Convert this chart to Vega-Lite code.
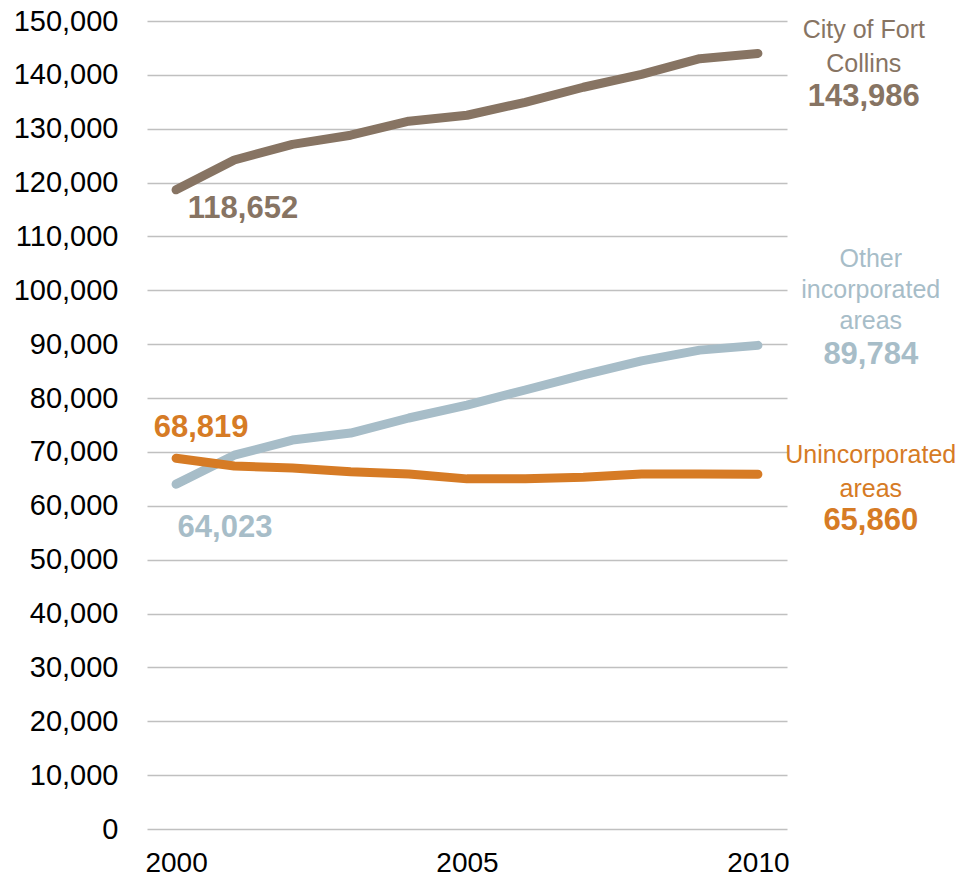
{
  "$schema": "https://vega.github.io/schema/vega-lite/v6.json",
  "width": 640,
  "height": 808,
  "autosize": {"type": "none"},
  "padding": {"left": 147, "top": 21, "right": 172, "bottom": 53},
  "background": "white",
  "config": {"view": {"stroke": null}, "font": "Liberation Sans"},
  "datasets": {
    "series": [
      {"year": 2000, "value": 118652, "area": "City"},
      {"year": 2001, "value": 124200, "area": "City"},
      {"year": 2002, "value": 127100, "area": "City"},
      {"year": 2003, "value": 128800, "area": "City"},
      {"year": 2004, "value": 131400, "area": "City"},
      {"year": 2005, "value": 132500, "area": "City"},
      {"year": 2006, "value": 134900, "area": "City"},
      {"year": 2007, "value": 137700, "area": "City"},
      {"year": 2008, "value": 140100, "area": "City"},
      {"year": 2009, "value": 143000, "area": "City"},
      {"year": 2010, "value": 143986, "area": "City"},
      {"year": 2000, "value": 64023, "area": "Other"},
      {"year": 2001, "value": 69400, "area": "Other"},
      {"year": 2002, "value": 72200, "area": "Other"},
      {"year": 2003, "value": 73500, "area": "Other"},
      {"year": 2004, "value": 76300, "area": "Other"},
      {"year": 2005, "value": 78700, "area": "Other"},
      {"year": 2006, "value": 81500, "area": "Other"},
      {"year": 2007, "value": 84300, "area": "Other"},
      {"year": 2008, "value": 86900, "area": "Other"},
      {"year": 2009, "value": 88900, "area": "Other"},
      {"year": 2010, "value": 89784, "area": "Other"},
      {"year": 2000, "value": 68819, "area": "Uninc"},
      {"year": 2001, "value": 67400, "area": "Uninc"},
      {"year": 2002, "value": 67000, "area": "Uninc"},
      {"year": 2003, "value": 66300, "area": "Uninc"},
      {"year": 2004, "value": 65900, "area": "Uninc"},
      {"year": 2005, "value": 65000, "area": "Uninc"},
      {"year": 2006, "value": 65000, "area": "Uninc"},
      {"year": 2007, "value": 65300, "area": "Uninc"},
      {"year": 2008, "value": 65900, "area": "Uninc"},
      {"year": 2009, "value": 65900, "area": "Uninc"},
      {"year": 2010, "value": 65860, "area": "Uninc"}
    ],
    "labels": [
      {"x": 2011.82, "y": 148320, "text": "City of Fort", "area": "City", "bold": false},
      {"x": 2011.82, "y": 142010, "text": "Collins", "area": "City", "bold": false},
      {"x": 2011.82, "y": 135880, "text": "143,986", "area": "City", "bold": true},
      {"x": 2011.94, "y": 105810, "text": "Other", "area": "Other", "bold": false},
      {"x": 2011.94, "y": 100060, "text": "incorporated", "area": "Other", "bold": false},
      {"x": 2011.94, "y": 94300, "text": "areas", "area": "Other", "bold": false},
      {"x": 2011.94, "y": 87990, "text": "89,784", "area": "Other", "bold": true},
      {"x": 2011.94, "y": 69430, "text": "Unincorporated", "area": "Uninc", "bold": false},
      {"x": 2011.94, "y": 63120, "text": "areas", "area": "Uninc", "bold": false},
      {"x": 2011.94, "y": 57170, "text": "65,860", "area": "Uninc", "bold": true},
      {"x": 2001.15, "y": 115090, "text": "118,652", "area": "City", "bold": true},
      {"x": 2000.43, "y": 74440, "text": "68,819", "area": "Uninc", "bold": true},
      {"x": 2000.84, "y": 55880, "text": "64,023", "area": "Other", "bold": true}
    ]
  },
  "layer": [
    {
      "data": {"name": "series"},
      "mark": {"type": "line", "strokeWidth": 9, "strokeCap": "round", "strokeJoin": "round", "clip": false},
      "encoding": {
        "x": {
          "field": "year", "type": "quantitative",
          "scale": {"domain": [1999.5, 2010.5], "nice": false, "zero": false},
          "axis": {"values": [2000, 2005, 2010], "format": "d", "title": null, "grid": false, "domain": false, "ticks": false,
                   "labelFontSize": 28, "labelColor": "#000000", "labelPadding": 20, "labelFont": "Liberation Sans"}
        },
        "y": {
          "field": "value", "type": "quantitative",
          "scale": {"domain": [0, 150000], "nice": false},
          "axis": {"values": [0,10000,20000,30000,40000,50000,60000,70000,80000,90000,100000,110000,120000,130000,140000,150000],
                   "format": ",.0f", "title": null, "domain": false, "ticks": false, "grid": true, "gridColor": "#c0c0c0", "gridWidth": 1.5,
                   "labelFontSize": 29, "labelColor": "#000000", "labelPadding": 29, "labelFont": "Liberation Sans"}
        },
        "color": {
          "field": "area", "type": "nominal", "legend": null,
          "scale": {"domain": ["City", "Other", "Uninc"], "range": ["#877463", "#a7bdc8", "#d67b25"]}
        }
      }
    },
    {
      "data": {"name": "labels"},
      "transform": [{"filter": "!datum.bold"}],
      "mark": {"type": "text", "fontSize": 25, "align": "center", "baseline": "middle", "clip": false},
      "encoding": {
        "x": {"field": "x", "type": "quantitative"},
        "y": {"field": "y", "type": "quantitative"},
        "text": {"field": "text"},
        "color": {"field": "area", "type": "nominal", "legend": null}
      }
    },
    {
      "data": {"name": "labels"},
      "transform": [{"filter": "datum.bold"}],
      "mark": {"type": "text", "fontSize": 31, "fontWeight": "bold", "align": "center", "baseline": "middle", "clip": false},
      "encoding": {
        "x": {"field": "x", "type": "quantitative"},
        "y": {"field": "y", "type": "quantitative"},
        "text": {"field": "text"},
        "color": {"field": "area", "type": "nominal", "legend": null}
      }
    }
  ]
}
